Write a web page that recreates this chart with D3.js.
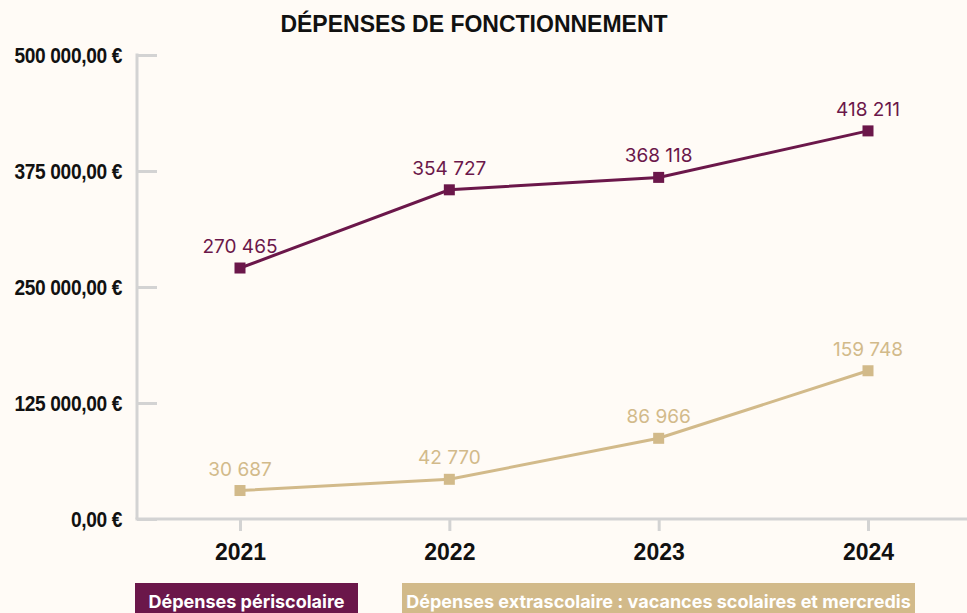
<!DOCTYPE html>
<html>
<head>
<meta charset="utf-8">
<script src="https://cdn.jsdelivr.net/npm/d3@7"></script>
<style>
  body { margin: 0; background: #fffbf6; }
  svg { display: block; }
</style>
</head>
<body>
<div id="container"></div>
<script>
const width = 967,
  height = 613,
  margin = { top: 55, bottom: 94, left: 137, right: 0 };

const colorPeri = "#6b174a",
  colorExtra = "#d2ba8a",
  axisColor = "#d3d3d3";

// data
const years = ["2021", "2022", "2023", "2024"];
const periscolaire = [270465, 354727, 368118, 418211];
const extrascolaire = [30687, 42770, 86966, 159748];
const yTicks = [0, 125000, 250000, 375000, 500000];
const yTickLabels = ["0,00 €", "125 000,00 €", "250 000,00 €", "375 000,00 €", "500 000,00 €"];
const seriesNames = ["Dépenses périscolaire", "Dépenses extrascolaire : vacances scolaires et mercredis"];

const formatVal = n => d3.format(",")(n).replace(/,/g, " ");

const svg = d3.select("#container")
  .append("svg")
  .attr("width", width)
  .attr("height", height);

svg.append("rect")
  .attr("width", width)
  .attr("height", height)
  .attr("fill", "#fffbf6");

// title
svg.append("text")
  .attr("x", 474)
  .attr("y", 32)
  .attr("text-anchor", "middle")
  .style("font-family", "Arial, 'Liberation Sans', sans-serif")
  .style("font-weight", "bold")
  .style("font-size", "23px")
  .attr("fill", "#111")
  .text("DÉPENSES DE FONCTIONNEMENT");

// scales
const xScale = d3.scalePoint()
  .domain(years)
  .range([240, 868]);

const yScale = d3.scaleLinear()
  .domain([0, 500000])
  .range([height - margin.bottom, margin.top]);

// y axis
const yAxisGroup = svg.append("g")
  .attr("transform", `translate(${margin.left}, 0)`)
  .call(d3.axisRight(yScale)
    .tickValues(yTicks)
    .tickSize(20)
    .tickFormat(""));

yAxisGroup.select(".domain").remove();
yAxisGroup.selectAll(".tick line")
  .attr("stroke", axisColor)
  .attr("stroke-width", 3);

svg.append("line")
  .attr("x1", margin.left)
  .attr("x2", margin.left)
  .attr("y1", yScale(500000) - 1.5)
  .attr("y2", yScale(0))
  .attr("stroke", axisColor)
  .attr("stroke-width", 3);

// condensed look: squeeze the bold labels horizontally
svg.selectAll(".yLabel")
  .data(yTicks)
  .join("text")
  .attr("class", "yLabel")
  .attr("transform", d => `translate(122, ${yScale(d)}) scale(0.87, 1)`)
  .attr("dy", "0.35em")
  .attr("text-anchor", "end")
  .style("font-family", "Arial, 'Liberation Sans', sans-serif")
  .style("font-weight", "bold")
  .style("font-size", "22px")
  .style("letter-spacing", "-0.4px")
  .attr("fill", "#111")
  .text((d, i) => yTickLabels[i]);

// x axis
const xAxisGroup = svg.append("g")
  .attr("transform", `translate(0, ${yScale(0)})`)
  .call(d3.axisBottom(xScale)
    .tickSize(12)
    .tickPadding(13)
    .tickSizeOuter(0));

xAxisGroup.select(".domain").remove();
xAxisGroup.selectAll(".tick line")
  .attr("stroke", axisColor)
  .attr("stroke-width", 3);
xAxisGroup.selectAll(".tick text")
  .style("font-family", "Arial, 'Liberation Sans', sans-serif")
  .style("font-weight", "bold")
  .style("font-size", "23px")
  .attr("fill", "#111");

svg.append("line")
  .attr("x1", margin.left - 1.5)
  .attr("x2", width)
  .attr("y1", yScale(0))
  .attr("y2", yScale(0))
  .attr("stroke", axisColor)
  .attr("stroke-width", 3);

// lines
const lineGen = d3.line()
  .x((d, i) => xScale(years[i]))
  .y(d => yScale(d));

const series = [
  { name: seriesNames[0], values: periscolaire, color: colorPeri },
  { name: seriesNames[1], values: extrascolaire, color: colorExtra }
];

series.forEach(s => {
  svg.append("path")
    .datum(s.values)
    .attr("fill", "none")
    .attr("stroke", s.color)
    .attr("stroke-width", 3)
    .attr("d", lineGen);

  svg.selectAll(null)
    .data(s.values)
    .join("rect")
    .attr("x", (d, i) => xScale(years[i]) - 5.5)
    .attr("y", d => yScale(d) - 5.5)
    .attr("width", 11)
    .attr("height", 11)
    .attr("fill", s.color);

  svg.selectAll(null)
    .data(s.values)
    .join("text")
    .attr("x", (d, i) => xScale(years[i]))
    .attr("y", d => yScale(d) - 15)
    .attr("text-anchor", "middle")
    .style("font-family", "Inter, Roboto, sans-serif")
    .style("font-size", "19px")
    .attr("fill", s.color)
    .text(d => formatVal(d));
});

// legend
const legendItems = [
  { x: 135, w: 223, name: seriesNames[0], color: colorPeri },
  { x: 402, w: 513, name: seriesNames[1], color: colorExtra }
];

const legend = svg.selectAll(".legend")
  .data(legendItems)
  .join("g")
  .attr("class", "legend")
  .attr("transform", d => `translate(${d.x}, 583)`);

legend.append("rect")
  .attr("width", d => d.w)
  .attr("height", 32)
  .attr("fill", d => d.color);

legend.append("text")
  .attr("x", d => d.w / 2)
  .attr("y", 25)
  .attr("text-anchor", "middle")
  .style("font-family", "Inter, Roboto, sans-serif")
  .style("font-weight", "bold")
  .style("font-size", "18px")
  .attr("fill", "#fff")
  .text(d => d.name);
</script>
</body>
</html>
